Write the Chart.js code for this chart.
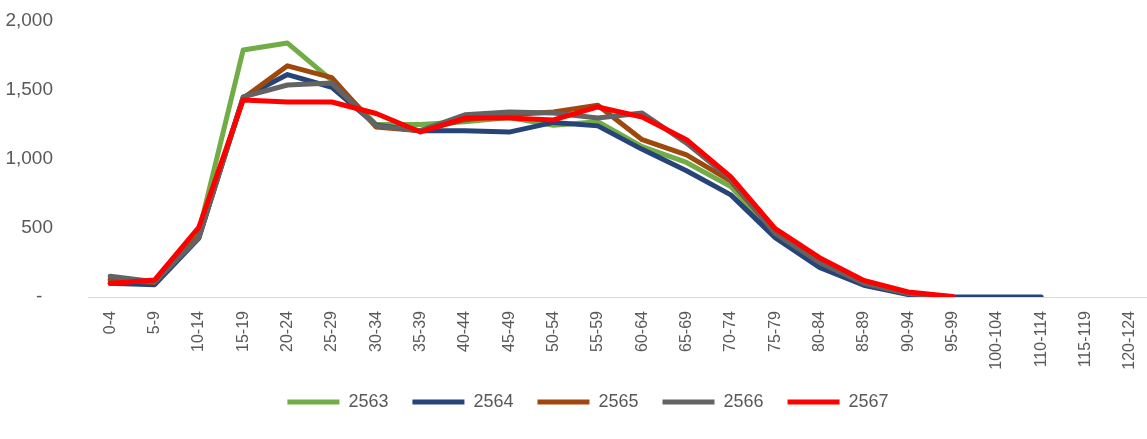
<!DOCTYPE html>
<html>
<head>
<meta charset="utf-8">
<script src="https://cdn.jsdelivr.net/npm/chart.js@4/dist/chart.umd.min.js"></script>
<style>
  html, body { margin: 0; padding: 0; background: #ffffff; overflow: hidden; }
  #wrap { position: relative; width: 1152px; height: 439px; }
</style>
</head>
<body>
<div id="wrap"><canvas id="chart"></canvas></div>
<script>
// Age groups shown on the horizontal axis
const ageGroups = ['0-4','5-9','10-14','15-19','20-24','25-29','30-34','35-39','40-44','45-49',
  '50-54','55-59','60-64','65-69','70-74','75-79','80-84','85-89','90-94','95-99',
  '100-104','110-114','115-119','120-124'];

// Population per age group, one list per year (B.E.)
const y2563 = [120, 110, 470, 1790, 1840, 1570, 1250, 1250, 1270, 1300, 1245, 1270, 1090, 975, 800, 450, 240, 95, 25, 2, null, null, null, null];
const y2564 = [100, 88, 425, 1445, 1612, 1520, 1245, 1205, 1205, 1195, 1265, 1240, 1070, 915, 740, 430, 215, 85, 18, 0, 0, 0, null, null];
const y2565 = [130, 105, 440, 1440, 1675, 1590, 1232, 1205, 1285, 1320, 1340, 1390, 1140, 1030, 840, 465, 255, 105, 28, 0, null, null, null, null];
const y2566 = [150, 110, 430, 1450, 1536, 1550, 1240, 1205, 1320, 1340, 1333, 1297, 1333, 1115, 855, 460, 250, 100, 25, 0, null, null, null, null];
const y2567 = [97, 123, 505, 1428, 1413, 1413, 1330, 1196, 1297, 1297, 1283, 1377, 1304, 1140, 870, 495, 285, 120, 36, 3, null, null, null, null];

// Y axis tick values
const yTicks = [0, 500, 1000, 1500, 2000];

const seriesNames = ['2563', '2564', '2565', '2566', '2567'];
const seriesData = [y2563, y2564, y2565, y2566, y2567];
const seriesColors = ['#70AD47', '#264478', '#9E480E', '#636363', '#FF0000'];

const FONT = "'Liberation Sans', Arial, sans-serif";
const TEXT = '#595959';

const datasets = seriesNames.map((name, i) => ({
  label: name,
  data: seriesData[i],
  borderColor: seriesColors[i],
  backgroundColor: seriesColors[i],
  borderWidth: 5,
  borderJoinStyle: 'round',
  borderCapStyle: 'round',
  pointRadius: 0,
  pointHoverRadius: 0,
  tension: 0,
  fill: false,
  spanGaps: false,
  // later years are painted over earlier ones
  order: seriesNames.length - 1 - i
}));

// Nudges the legend row a little to the right of the canvas centre
const legendShift = {
  id: 'legendShift',
  afterLayout(chart) {
    if (chart.legend) {
      chart.legend.left += 12;
      chart.legend.right += 12;
    }
  }
};

new Chart(document.getElementById('chart'), {
  type: 'line',
  data: { labels: ageGroups, datasets },
  plugins: [legendShift],
  options: {
    responsive: true,
    maintainAspectRatio: false,
    animation: false,
    events: [],
    layout: { padding: { top: 21, right: 0, bottom: 18, left: 0 } },
    scales: {
      x: {
        offset: true,
        grid: { display: true, drawOnChartArea: false, drawTicks: false },
        border: { display: true, color: '#D9D9D9', width: 1 },
        ticks: {
          autoSkip: false,
          minRotation: 90,
          maxRotation: 90,
          padding: 14,
          color: TEXT,
          font: { family: FONT, size: 16 }
        },
        afterFit(scale) {
          scale.height = 72;
          scale.paddingLeft = 0;
          scale.paddingRight = 0;
        }
      },
      y: {
        min: 0,
        max: 2000,
        afterBuildTicks(scale) { scale.ticks = yTicks.map(v => ({ value: v })); },
        grid: { display: false, drawTicks: false },
        border: { display: false },
        ticks: {
          padding: 35,
          color: TEXT,
          font: { family: FONT, size: 19 },
          callback: v => v === 0 ? '-  ' : v.toLocaleString('en-US')
        },
        afterFit(scale) {
          scale.width = 88;
          scale.paddingTop = 0;
          scale.paddingBottom = 0;
        }
      }
    },
    plugins: {
      tooltip: { enabled: false },
      legend: {
        position: 'bottom',
        labels: {
          boxWidth: 52,
          boxHeight: 5,
          padding: 24,
          color: TEXT,
          font: { family: FONT, size: 18 },
          sort: (a, b) => a.datasetIndex - b.datasetIndex,
          generateLabels(chart) {
            return Chart.defaults.plugins.legend.labels.generateLabels(chart).map(item => {
              const c = seriesColors[item.datasetIndex];
              return Object.assign(item, { fillStyle: c, strokeStyle: c, lineWidth: 0 });
            });
          }
        }
      }
    }
  }
});
</script>
</body>
</html>
